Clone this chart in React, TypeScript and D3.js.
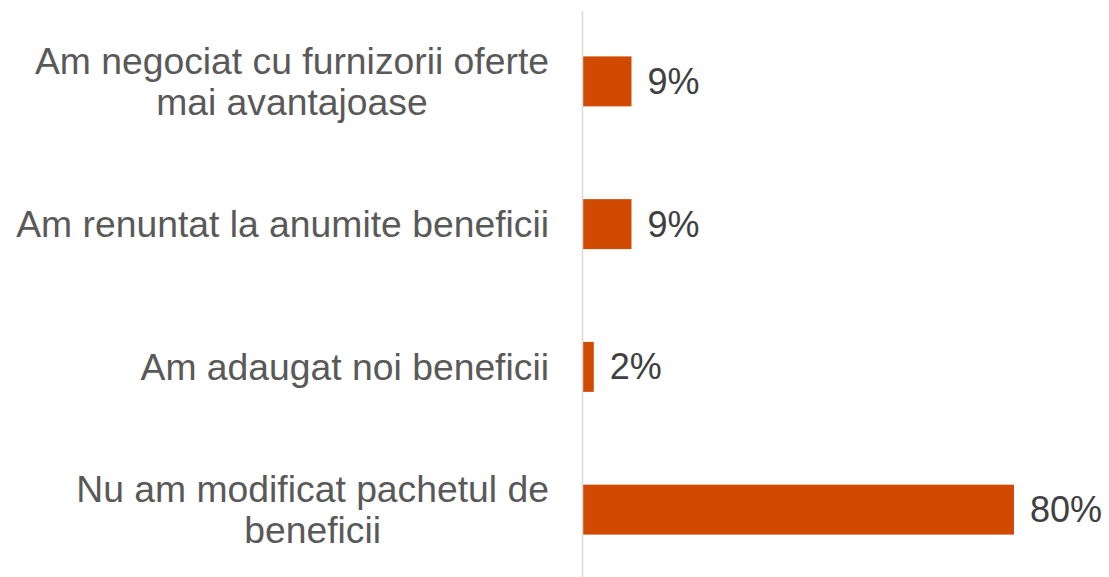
import * as d3 from 'd3';
import React, { useRef, useEffect } from 'react';

const categories = [
    ['Am negociat cu furnizorii oferte', 'mai avantajoase'],
    ['Am renuntat la anumite beneficii'],
    ['Am adaugat noi beneficii'],
    ['Nu am modificat pachetul de', 'beneficii'],
]
const values = [9, 9, 2, 80]
const valueLabels = ['9%', '9%', '2%', '80%']

const width = 1109
const height = 577

export default function App() {
    const ref = useRef<HTMLDivElement>(null)

    useEffect(() => {
        d3.select(ref.current).selectAll('svg').remove()

        const svg = d3.select(ref.current)
            .append('svg')
            .attr('width', width)
            .attr('height', height)
            .style('position', 'absolute')
            .style('left', 0)
            .style('top', 0)
            .style('font-family', '"Liberation Sans", Arial, sans-serif')

        const keys = categories.map((c, i) => String(i))

        const y = d3.scaleBand()
            .domain(keys)
            .range([10, 581])
            .paddingInner(0.65)
            .paddingOuter(0.325)

        const x = d3.scaleLinear()
            .domain([0, 80])
            .range([583, 1014])

        // bars
        svg.selectAll('rect.bar')
            .data(values)
            .enter()
            .append('rect')
            .attr('class', 'bar')
            .attr('x', x(0))
            .attr('y', (d, i) => y(keys[i]))
            .attr('width', d => x(d) - x(0))
            .attr('height', y.bandwidth())
            .attr('fill', '#d04a02')

        // axis line
        svg.append('line')
            .attr('x1', x(0) - 0.5)
            .attr('x2', x(0) - 0.5)
            .attr('y1', 11)
            .attr('y2', height)
            .attr('stroke', '#d9d9d9')
            .attr('stroke-width', 1.5)

        // value labels
        svg.selectAll('text.val')
            .data(values)
            .enter()
            .append('text')
            .attr('class', 'val')
            .attr('x', d => x(d) + 16)
            .attr('y', (d, i) => y(keys[i]) + y.bandwidth() / 2)
            .attr('dy', '0.35em')
            .attr('fill', '#404040')
            .style('font-size', '36px')
            .text((d, i) => valueLabels[i])

        // category labels, multi-line centered as a block ending at labelRight
        const labelRight = 549
        const lineHeight = 40.5
        categories.forEach((lines, i) => {
            const cy = y(keys[i]) + y.bandwidth() / 2
            const g = svg.append('g')
            const texts = lines.map((line, j) =>
                g.append('text')
                    .attr('y', cy + (j - (lines.length - 1) / 2) * lineHeight)
                    .attr('dy', '0.35em')
                    .attr('fill', '#595959')
                    .attr('text-anchor', 'middle')
                    .style('font-size', '37.3px')
                    .text(line)
            )
            const maxW = d3.max(texts, t => (t.node() as SVGTextElement).getComputedTextLength()) || 0
            texts.forEach(t => t.attr('x', labelRight - maxW / 2))
        })
    }, [])

    return <div ref={ref} />
}
